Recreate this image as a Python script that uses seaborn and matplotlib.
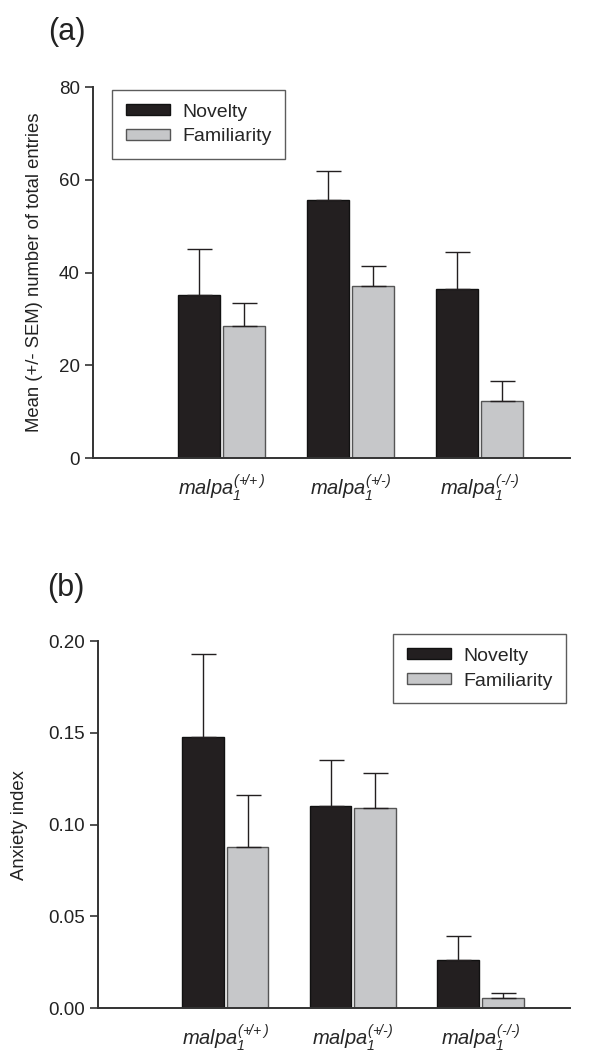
import numpy as np
import pandas as pd
import matplotlib
matplotlib.use("Agg")
import matplotlib.pyplot as plt
from matplotlib.patches import Patch
import seaborn as sns

# genotype groups and conditions
genotypes = ["(+/+)", "(+/-)", "(-/-)"]
conditions = ["Novelty", "Familiarity"]

# (a) number of total entries, mean and SEM
entries_nov = [35.2, 55.6, 36.5]
entries_nov_sem = [9.8, 6.3, 8.0]
entries_fam = [28.5, 37.2, 12.2]
entries_fam_sem = [5.0, 4.3, 4.5]

# (b) anxiety index, mean and SEM
anx_nov = [0.148, 0.110, 0.026]
anx_nov_sem = [0.045, 0.025, 0.013]
anx_fam = [0.088, 0.109, 0.0055]
anx_fam_sem = [0.028, 0.019, 0.0025]

sns.set_style("ticks")
plt.rcParams["font.family"] = ["Liberation Sans", "DejaVu Sans"]
plt.rcParams["mathtext.fontset"] = "custom"
plt.rcParams["mathtext.it"] = "Liberation Sans:italic"
plt.rcParams["mathtext.rm"] = "Liberation Sans:italic"

colors = {"Novelty": "#231f20", "Familiarity": "#c6c7c9"}
edges = {"Novelty": "#111111", "Familiarity": "#555555"}

# \text{-} keeps a plain hyphen instead of the math minus
xlabels = [r"$\mathit{malpa}_{\mathit{1}}^{\mathit{(+\!/\!+)}}$",
           r"$\mathit{malpa}_{\mathit{1}}^{\mathit{(+\!/}\text{-}\mathit{)}}$",
           r"$\mathit{malpa}_{\mathit{1}}^{\mathit{(}\text{-}\mathit{/}\text{-}\mathit{)}}$"]


def make_df(nov, nov_sem, fam, fam_sem):
    df = pd.DataFrame({
        "genotype": genotypes * 2,
        "condition": ["Novelty"] * 3 + ["Familiarity"] * 3,
        "value": nov + fam,
        "sem": nov_sem + fam_sem,
    })
    return df


def draw_panel(ax, df, ylim, yticks, fmt, ylabel, letter, leg_loc, leg_anchor,
               ylab_x, letter_xy):
    sns.barplot(data=df, x="genotype", y="value", hue="condition",
                hue_order=conditions, palette=colors, width=0.7, gap=0.07,
                errorbar=None, ax=ax, saturation=1, legend=False)
    for cont, cond in zip(ax.containers, conditions):
        sems = df[df.condition == cond]["sem"].values
        for rect, s in zip(cont, sems):
            rect.set_edgecolor(edges[cond])
            rect.set_linewidth(1.0)
            x = rect.get_x() + rect.get_width() / 2
            h = rect.get_height()
            ax.errorbar(x, h, yerr=[[0], [s]], fmt="none", ecolor="#231f20",
                        elinewidth=1.0, capsize=9, capthick=1.0, zorder=1)
    ax.set_xlim(-1.0, 2.7)
    ax.set_ylim(*ylim)
    ax.set_yticks(yticks)
    ax.set_yticklabels([fmt.format(t) for t in yticks])
    ax.set_xticks(range(3))
    ax.set_xticklabels(xlabels, fontsize=14.5)
    ax.set_xlabel("")
    ax.set_ylabel(ylabel, fontsize=13.3, color="#222222")
    ax.yaxis.set_label_coords(ylab_x, 0.5)
    ax.tick_params(axis="x", length=0, pad=10)
    ax.tick_params(axis="y", length=6, width=1.2, direction="out",
                   labelsize=13.5, color="#333333", labelcolor="#222222")
    for sp in ["top", "right"]:
        ax.spines[sp].set_visible(False)
    for sp in ["left", "bottom"]:
        ax.spines[sp].set_linewidth(1.4)
        ax.spines[sp].set_color("#333333")
    handles = [Patch(facecolor=colors[c], edgecolor=edges[c], linewidth=1.0, label=c)
               for c in conditions]
    leg = ax.legend(handles=handles, loc=leg_loc, bbox_to_anchor=leg_anchor,
                    fontsize=14, frameon=True, fancybox=False,
                    handlelength=2.3, handleheight=0.5, borderpad=0.7,
                    labelspacing=0.4, handletextpad=0.6, borderaxespad=0,
                    edgecolor="#333333")
    leg.get_frame().set_linewidth(1.0)
    ax.text(letter_xy[0], letter_xy[1], letter, transform=ax.transAxes,
            fontsize=22, ha="left", va="center", color="#222222")


fig = plt.figure(figsize=(6.11, 10.51), dpi=100)
ax1 = fig.add_axes([0.152, 0.5642, 0.781, 0.353])
ax2 = fig.add_axes([0.160, 0.0409, 0.7725, 0.349])

df_a = make_df(entries_nov, entries_nov_sem, entries_fam, entries_fam_sem)
df_b = make_df(anx_nov, anx_nov_sem, anx_fam, anx_fam_sem)

draw_panel(ax1, df_a, (0, 80), [0, 20, 40, 60, 80], "{:.0f}",
           "Mean (+/- SEM) number of total entries", "(a)",
           "upper left", (0.04, 0.992), -0.105, (-0.094, 1.148))
draw_panel(ax2, df_b, (0, 0.2), [0.0, 0.05, 0.10, 0.15, 0.20], "{:.2f}",
           "Anxiety index", "(b)",
           "upper right", (0.992, 1.019), -0.148, (-0.108, 1.144))

fig.savefig("out.png", dpi=100)
